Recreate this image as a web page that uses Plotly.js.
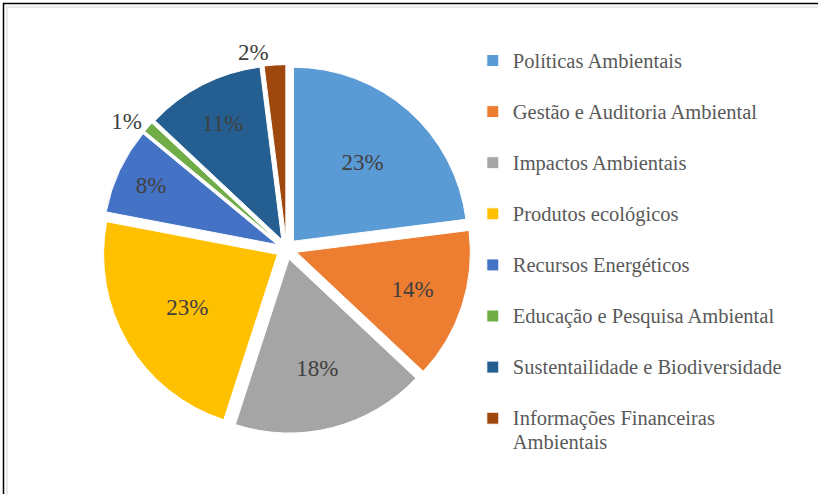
<!DOCTYPE html>
<html>
<head>
<meta charset="utf-8">
<script src="https://cdn.plot.ly/plotly-3.0.1.min.js"></script>
<style>html,body{margin:0;padding:0;background:#fff;}#chart{width:818px;height:494px;}</style>
</head>
<body>
<div id="chart"></div>
<script>
const categories = [
  "Políticas Ambientais",
  "Gestão e Auditoria Ambiental",
  "Impactos Ambientais",
  "Produtos ecológicos",
  "Recursos Energéticos",
  "Educação e Pesquisa Ambiental",
  "Sustentailidade e Biodiversidade",
  "Informações Financeiras<br>Ambientais"
];
const values = [23, 14, 18, 23, 8, 1, 11, 2];
const colors = ["#5B9BD5", "#ED7D31", "#A5A5A5", "#FFC000", "#4472C4", "#70AD47", "#255E91", "#9E480E"];
const labelPositions = ["inside", "inside", "inside", "inside", "inside", "outside", "inside", "outside"];

// larger legend text, padded with a blank line to reproduce the entry spacing
const legendLabels = categories.map(c =>
  c.split("<br>").map(p => '<span style="font-size:20.5px">' + p + '</span>').join("<br>") + "<br> "
);

const trace = {
  type: "pie",
  labels: legendLabels,
  values: values,
  sort: false,
  direction: "clockwise",
  rotation: 0,
  pull: 0.06,
  marker: {colors: colors, line: {color: "#ffffff", width: 1}},
  textinfo: "percent",
  textposition: labelPositions,
  insidetextorientation: "horizontal",
  textfont: {family: "Liberation Serif, Times New Roman, serif", size: 23, color: "#404040"},
  outsidetextfont: {family: "Liberation Serif, Times New Roman, serif", size: 23, color: "#404040"},
  domain: {x: [0.1248, 0.5757], y: [0.1227, 0.8692]},
  hoverinfo: "percent"
};

const layout = {
  width: 818,
  height: 494,
  margin: {l: 0, r: 0, t: 0, b: 0},
  paper_bgcolor: "#ffffff",
  showlegend: true,
  legend: {
    x: 0.578, xanchor: "left",
    y: 0.915, yanchor: "top",
    valign: "top",
    font: {family: "Liberation Serif, Times New Roman, serif", size: 18.5, color: "#595959"},
    bgcolor: "rgba(0,0,0,0)"
  },
  shapes: [
    {type: "rect", xref: "paper", yref: "paper", x0: 3.5/818, x1: 1.2, y0: -0.2, y1: 1 - 3.5/494,
     line: {color: "#000000", width: 1.5}},
    {type: "rect", xref: "paper", yref: "paper", x0: 7/818, x1: 1.2, y0: -0.2, y1: 1 - 7/494,
     line: {color: "#e3e3e3", width: 1.5}}
  ]
};

Plotly.newPlot("chart", [trace], layout, {displayModeBar: false, staticPlot: true});
</script>
</body>
</html>
